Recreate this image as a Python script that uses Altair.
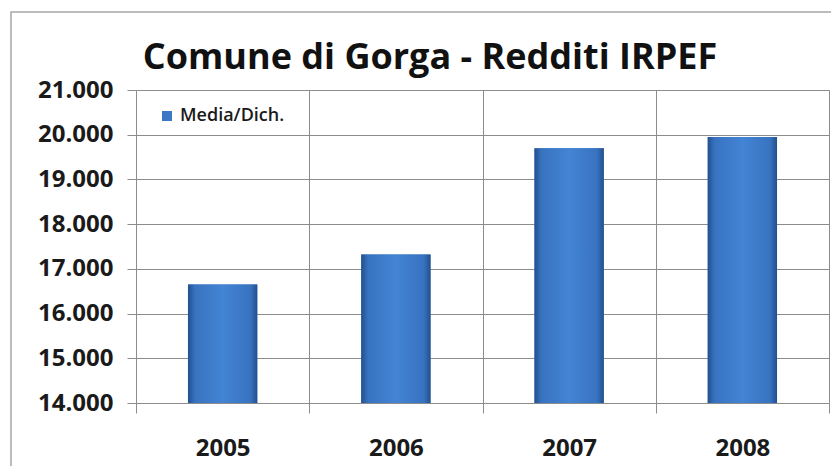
import altair as alt
import pandas as pd

years = ["2005", "2006", "2007", "2008"]
values = [16650, 17320, 19700, 19950]
series = ["Media/Dich."] * 4
y_ticks = [14000, 15000, 16000, 17000, 18000, 19000, 20000, 21000]
title_text = "Comune di Gorga - Redditi IRPEF"

df = pd.DataFrame({"anno": years, "valore": values, "serie": series})

FONT = "Open Sans"
GRID = "#8c8c8c"

x_enc = alt.X(
    "anno:N",
    title=None,
    scale=alt.Scale(paddingInner=0, paddingOuter=0),
    axis=alt.Axis(
        labelAngle=0, labelFont=FONT, labelFontSize=24, labelFontWeight="bold",
        labelColor="#1a1a1a", tickBand="extent", grid=True, gridColor=GRID,
        tickColor=GRID, tickSize=10, domain=False, labelPadding=23,
    ),
)
y_enc = alt.Y(
    "valore:Q",
    title=None,
    scale=alt.Scale(domain=[14000, 21000], nice=False, zero=False),
    axis=alt.Axis(
        values=y_ticks,
        labelExpr="replace(format(datum.value, ','), ',', '.')",
        labelFont=FONT, labelFontSize=24, labelFontWeight="bold",
        labelColor="#1a1a1a", gridColor=GRID, tickColor=GRID, tickSize=9,
        labelPadding=14, domainColor=GRID,
    ),
)
y2_enc = alt.Y2(datum=14000)

base = alt.Chart(df)

bars_solid = base.mark_bar(width=alt.RelativeBandSize(0.4), clip=True).encode(
    x=x_enc,
    y=y_enc,
    y2=y2_enc,
    color=alt.Color(
        "serie:N",
        scale=alt.Scale(range=["#3c79c4"]),
        legend=alt.Legend(
            title=None, orient="none", legendX=22, legendY=17,
            symbolType="square", symbolSize=100, labelFont=FONT,
            labelFontSize=18, labelFontWeight=600, labelColor="#1a1a1a",
            padding=0, symbolStrokeWidth=0, labelOffset=4,
        ),
    ),
)

grad = alt.Gradient(
    gradient="linear",
    x1=0, x2=1, y1=0, y2=0,
    stops=[
        alt.GradientStop(offset=0, color="#22508e"),
        alt.GradientStop(offset=0.1, color="#3873c0"),
        alt.GradientStop(offset=0.5, color="#4384d4"),
        alt.GradientStop(offset=0.9, color="#3873c0"),
        alt.GradientStop(offset=1, color="#22508e"),
    ],
)

bars_grad = base.mark_bar(width=alt.RelativeBandSize(0.4), color=grad, clip=True).encode(
    x=x_enc, y=y_enc, y2=y2_enc
)

frame = alt.Chart(alt.Data(values=[{}])).mark_rect(
    fill=None, stroke="#a6a6a6", strokeWidth=1.5
).encode(
    x=alt.value(-125), y=alt.value(-78), x2=alt.value(760), y2=alt.value(460)
)

title = alt.Chart(alt.Data(values=[{"t": title_text}])).mark_text(
    font=FONT, fontSize=36, fontWeight="bold", color="#111111",
    align="center", baseline="middle",
).encode(
    text="t:N", x=alt.value(294), y=alt.value(-32)
)

chart = alt.layer(frame, bars_solid, bars_grad, title).properties(
    width=693,
    height=313,
    padding={"left": 128, "top": 82, "right": 2, "bottom": 63},
    autosize=alt.AutoSizeParams(type="none"),
).configure_view(stroke=GRID).configure(background="white")

chart.save("out.html", embed_options={"renderer": "svg", "actions": False})
